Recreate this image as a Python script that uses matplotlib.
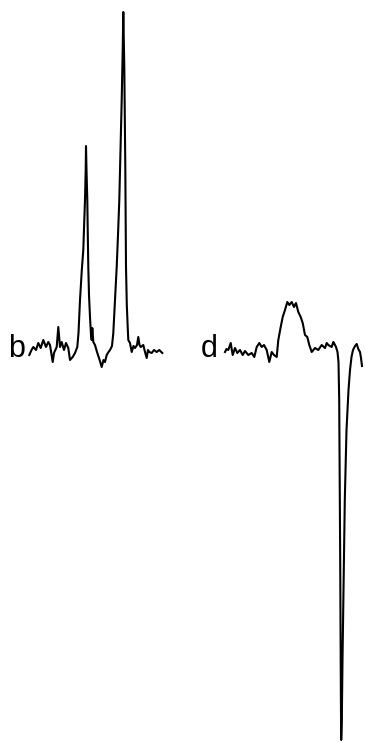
import matplotlib
matplotlib.use("Agg")
import matplotlib.pyplot as plt

# trace b: position (px from left) and signal (relative to baseline)
b_pos = [29.3, 31.5, 33.3, 36, 38.3, 40.7, 43.3, 46, 48.3, 50, 52.7, 54, 56.7, 58.3,
         60, 61.7, 64, 66, 68.3, 70, 72.7, 75, 77.3, 78.5, 80, 81.8, 83.3, 84.3, 85,
         85.7, 86, 86.5, 87.3, 87.8, 88.3, 89, 90, 91, 91.7, 92.3, 93.3, 95, 97, 99,
         101.7, 103.5, 105, 106.7, 108.5, 110, 112, 113.3, 115, 116.7, 118, 119.3,
         120.5, 121.7, 122.7, 123.3, 123.8, 124.3, 125.3, 126, 126.8, 127.7, 128.3,
         130, 131.7, 133.5, 135, 137, 138.3, 139.5, 140.7, 143.3, 145, 146.7, 148,
         149.3, 151.7, 154, 156.7, 159.3, 162.3]
b_sig = [-5, 0, 3, 0, 7, 2, 10, 3, 8, 5, -12, -3, 3, 23,
         3, 8, 0, 7, 2, -10, -7, -3, 3, 17, 50, 80, 100, 130, 150,
         180, 204, 180, 150, 115, 83, 55, 33, 15, 10, 22, 8, 5, -2, -8,
         -17, -10, -12, -5, -2, 0, 4, 17, 50, 83, 115, 150,
         200, 250, 300, 338, 310, 283, 183, 83, 45, 23, 10,
         7, -2, 4, 2, 5, 13, 5, 3, 5, -2, -8, 0,
         -2, -3, 0, -2, 0, -3]

# trace d
d_pos = [225, 226.5, 228.3, 230.7, 232.7, 235, 237.3, 240, 242.7, 245, 248.3, 251.7,
         254.3, 256.7, 259.3, 261.7, 264, 266.7, 269.3, 271.7, 274, 276.7, 278.3,
         280.7, 282.7, 285, 287.3, 289.3, 291.7, 294, 296, 298.3, 300.7, 302.7, 305,
         307.3, 309.3, 311.7, 315, 318.3, 321.7, 325, 326.7, 328.3, 331.7, 333.3,
         334.5, 336, 337.5, 338.5, 339.2, 339.7, 340.2, 340.6, 340.9, 341.2, 341.8,
         342.5, 343.5, 344.8, 346.5, 348.5, 350, 351.5, 353, 355, 356.7, 358.3, 360,
         361, 362]
d_sig = [-2, 1, 0, 7, -5, 2, -3, 0, -5, -1, -5, -3,
         -7, 3, 7, 3, 5, 0, -12, -2, -5, -7, 10,
         23, 33, 40, 48, 45, 48, 43, 47, 38, 33, 27, 15,
         13, 5, -2, 2, 0, 5, 2, 7, 5, 3, 8,
         6, 3, -2, -12, -50, -130, -210, -290, -350, -390, -370,
         -310, -240, -150, -80, -40, -20, -7, 0, 4, 6, 1, -2,
         -8, -16]

labels = ["b", "d"]
label_pos = [16.5, 209]

fig = plt.figure(figsize=(3.65, 7.43), dpi=100)
ax = fig.add_axes([0, 0, 1, 1])
ax.plot(b_pos, b_sig, color="black", lw=1.5, solid_joinstyle="round")
ax.plot(d_pos, d_sig, color="black", lw=1.5, solid_joinstyle="round")
for lab, x in zip(labels, label_pos):
    ax.text(x, -7, lab, ha="center", va="baseline", fontsize=22,
            family="Liberation Sans")
ax.set_xlim(0, 365)
ax.set_ylim(350 - 743, 350)
ax.axis("off")
fig.savefig("out.png", dpi=100, facecolor="white")
